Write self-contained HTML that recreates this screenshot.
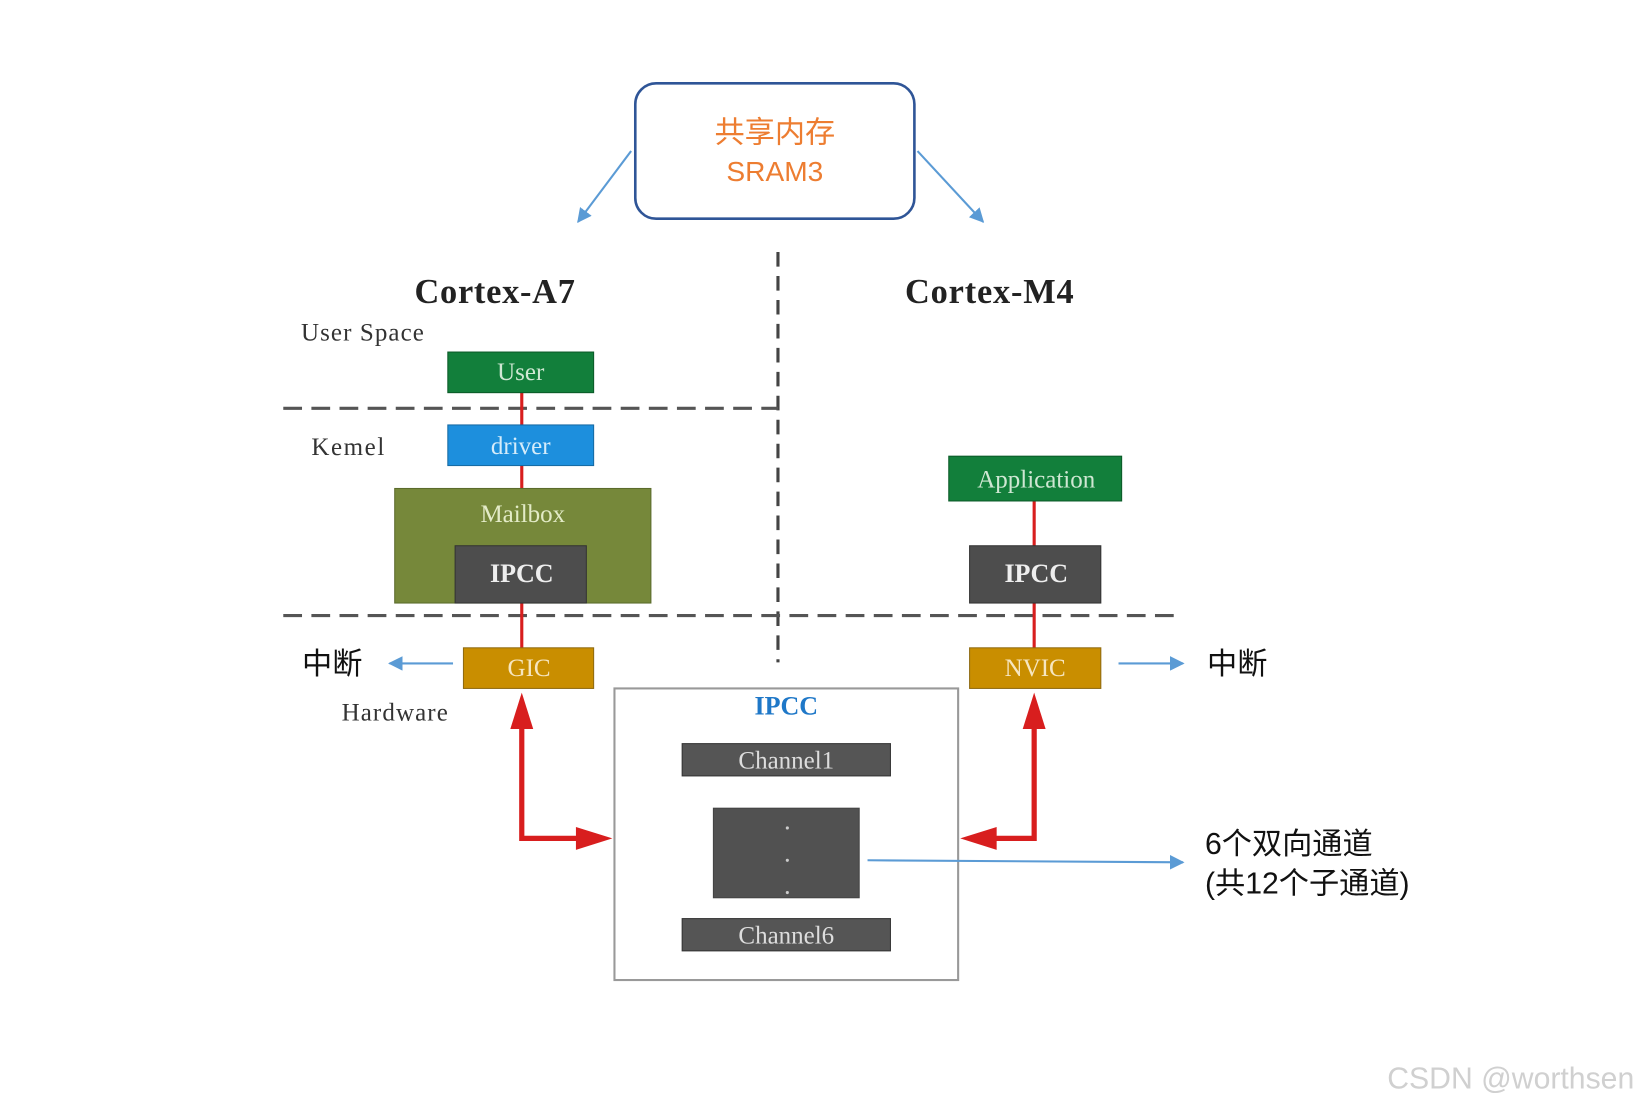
<!DOCTYPE html>
<html><head><meta charset="utf-8"><style>
html,body{margin:0;padding:0;background:#fff}
svg{display:block}
.s{font-family:"Liberation Serif",serif}
.c{font-family:"Liberation Sans","Noto Sans CJK SC",sans-serif}
</style></head><body>
<svg width="1633" height="1104" viewBox="0 0 1568 1060" xmlns="http://www.w3.org/2000/svg">
<defs>
<marker id="b" viewBox="0 0 10 10" refX="9" refY="5" markerWidth="7" markerHeight="7" orient="auto"><path d="M0,0 L10,5 L0,10 z" fill="#5b9bd5"/></marker>
</defs>
<rect x="610" y="80" width="268" height="130" rx="20" fill="#fff" stroke="#2f5597" stroke-width="2.5"/>
<text x="744" y="137" text-anchor="middle" class="c" font-size="29" fill="#ed7d31">共享内存</text>
<text x="744" y="174" text-anchor="middle" class="c" font-size="27" fill="#ed7d31">SRAM3</text>
<line x1="606" y1="145" x2="555" y2="213" stroke="#5b9bd5" stroke-width="2" marker-end="url(#b)"/>
<line x1="881" y1="145" x2="944" y2="213" stroke="#5b9bd5" stroke-width="2" marker-end="url(#b)"/>
<line x1="747" y1="242" x2="747" y2="636" stroke="#444" stroke-width="3" stroke-dasharray="14 9"/>
<line x1="272" y1="392" x2="747" y2="392" stroke="#555" stroke-width="3" stroke-dasharray="18 9"/>
<line x1="272" y1="591" x2="1133" y2="591" stroke="#555" stroke-width="3" stroke-dasharray="18 9"/>
<text x="475" y="291" text-anchor="middle" class="s" font-size="33" font-weight="bold" fill="#222" textLength="154">Cortex-A7</text>
<text x="950" y="291" text-anchor="middle" class="s" font-size="33" font-weight="bold" fill="#222" textLength="162">Cortex-M4</text>
<text x="289" y="327" class="s" font-size="24" fill="#333" textLength="118">User Space</text>
<text x="299" y="437" class="s" font-size="24" fill="#333" textLength="70">Kemel</text>
<text x="328" y="692" class="s" font-size="24" fill="#333" textLength="102">Hardware</text>
<g stroke="#d81e1e" stroke-width="3">
<line x1="501" y1="377" x2="501" y2="408"/><line x1="501" y1="447" x2="501" y2="469"/>
<line x1="501" y1="579" x2="501" y2="622"/>
<line x1="993" y1="481" x2="993" y2="524"/><line x1="993" y1="579" x2="993" y2="622"/>
</g>
<rect x="430" y="338" width="140" height="39" fill="#127f3b" stroke="#0b5a28"/>
<text x="500" y="365" text-anchor="middle" class="s" font-size="24" fill="#cfe7d3">User</text>
<rect x="430" y="408" width="140" height="39" fill="#1d8fdd" stroke="#166aa3"/>
<text x="500" y="436" text-anchor="middle" class="s" font-size="24" fill="#d5ecfa">driver</text>
<rect x="379" y="469" width="246" height="110" fill="#76883a" stroke="#5b6b2c"/>
<text x="502" y="501" text-anchor="middle" class="s" font-size="24" fill="#e3ebc7">Mailbox</text>
<rect x="437" y="524" width="126" height="55" fill="#4d4d4d" stroke="#333"/>
<text x="501" y="559" text-anchor="middle" class="s" font-size="25" font-weight="bold" fill="#eee">IPCC</text>
<rect x="445" y="622" width="125" height="39" fill="#c98e00" stroke="#8f6a10"/>
<text x="508" y="649" text-anchor="middle" class="s" font-size="24" fill="#f6e6c0">GIC</text>
<rect x="911" y="438" width="166" height="43" fill="#127f3b" stroke="#0b5a28"/>
<text x="995" y="468" text-anchor="middle" class="s" font-size="24" fill="#cfe7d3">Application</text>
<rect x="931" y="524" width="126" height="55" fill="#4d4d4d" stroke="#333"/>
<text x="995" y="559" text-anchor="middle" class="s" font-size="25" font-weight="bold" fill="#eee">IPCC</text>
<rect x="931" y="622" width="126" height="39" fill="#c98e00" stroke="#8f6a10"/>
<text x="994" y="649" text-anchor="middle" class="s" font-size="24" fill="#f6e6c0">NVIC</text>
<text x="290" y="647" class="c" font-size="29" fill="#111">中断</text>
<line x1="435" y1="637" x2="374" y2="637" stroke="#5b9bd5" stroke-width="2" marker-end="url(#b)"/>
<line x1="1074" y1="637" x2="1136" y2="637" stroke="#5b9bd5" stroke-width="2" marker-end="url(#b)"/>
<text x="1159" y="647" class="c" font-size="29" fill="#111">中断</text>
<rect x="590" y="661" width="330" height="280" fill="#fff" stroke="#999" stroke-width="2"/>
<text x="755" y="686" text-anchor="middle" class="s" font-size="25" font-weight="bold" fill="#1f78c8">IPCC</text>
<rect x="655" y="714" width="200" height="31" fill="#555" stroke="#333"/>
<text x="755" y="738" text-anchor="middle" class="s" font-size="24" fill="#ddd">Channel1</text>
<rect x="685" y="776" width="140" height="86" fill="#515151" stroke="#444"/>
<circle cx="756" cy="795" r="1.5" fill="#ccc"/><circle cx="756" cy="826" r="1.5" fill="#ccc"/><circle cx="756" cy="857" r="1.5" fill="#ccc"/>
<rect x="655" y="882" width="200" height="31" fill="#555" stroke="#333"/>
<text x="755" y="906" text-anchor="middle" class="s" font-size="24" fill="#ddd">Channel6</text>
<g fill="none" stroke="#d81e1e" stroke-width="5">
<polyline points="501,695 501,805 560,805"/>
<polyline points="993,695 993,805 952,805"/>
</g>
<g fill="#d81e1e">
<polygon points="501,665 490,700 512,700"/>
<polygon points="588,805 553,794 553,816"/>
<polygon points="993,665 982,700 1004,700"/>
<polygon points="922,805 957,794 957,816"/>
</g>
<line x1="833" y1="826" x2="1136" y2="828" stroke="#5b9bd5" stroke-width="2" marker-end="url(#b)"/>
<text x="1157" y="820" class="c" font-size="29" fill="#111">6个双向通道</text>
<text x="1157" y="858" class="c" font-size="29" fill="#111">(共12个子通道)</text>
<text x="1332" y="1045" class="c" font-size="29" fill="#d0d0d0">CSDN @worthsen</text>
</svg>
</body></html>
